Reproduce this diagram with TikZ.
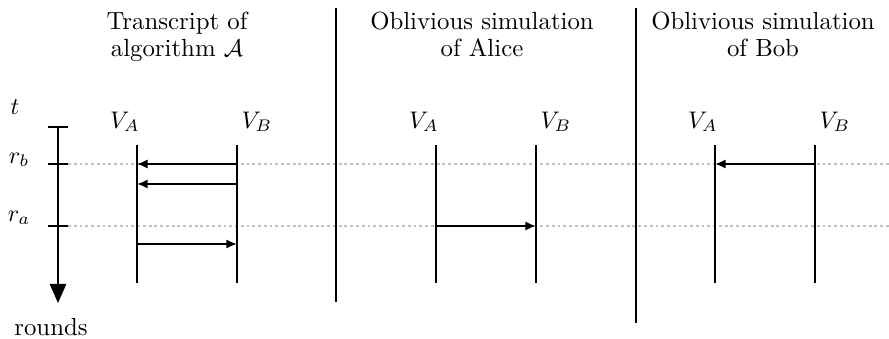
\documentclass[tikz,border=0pt]{standalone}
\usetikzlibrary{arrows.meta}
\begin{document}
\begin{tikzpicture}[x=0.41667pt,y=-0.41667pt,
  font=\fontsize{10.33pt}{11.25pt}\selectfont,
  life/.style={line width=0.8pt},
  msg/.style={line width=0.8pt,-{Latex[length=4.4pt,width=3.8pt]}},
  sep/.style={line width=0.8pt},
  grid/.style={gray!50,dash pattern=on 1.2pt off 1.2pt,line width=0.6pt},
  lbl/.style={inner sep=0pt},
  title/.style={align=center,inner sep=0pt,anchor=north}]
\useasboundingbox (0,0) rectangle (889,339);
% level coordinates
\coordinate (rb) at (0,164);
\coordinate (rb2) at (0,184);
\coordinate (ra) at (0,226);
\coordinate (ra2) at (0,244);
% dashed round lines
\coordinate (rbL) at (68,164); \coordinate (rbR) at (889,164);
\coordinate (raL) at (68,226); \coordinate (raR) at (889,226);
\draw[grid] (rbL) -- (rbR);
\draw[grid] (raL) -- (raR);
% time axis
\coordinate (ttop) at (58,127);
\coordinate (tbot) at (58,303);
\draw[line width=1pt,-{Triangle[length=8pt,width=6.8pt]}] (ttop) -- (tbot);
\coordinate (tickL) at (48,127); \coordinate (tickR) at (68,127);
\draw[line width=1pt] (tickL) -- (tickR);
\coordinate (tbL) at (48,164); \coordinate (tbR) at (68,164);
\draw[line width=1pt] (tbL) -- (tbR);
\coordinate (taL) at (48,226); \coordinate (taR) at (68,226);
\draw[line width=1pt] (taL) -- (taR);
\node[lbl] (t) at (15,107) {$t$};
\node[lbl] (rblbl) at (19,160) {$r_b$};
\node[lbl] (ralbl) at (19,218) {$r_a$};
\node[lbl] (rounds) at (51,327) {rounds};
% separators
\coordinate (s1t) at (336,8); \coordinate (s1b) at (336,302);
\coordinate (s2t) at (636,8); \coordinate (s2b) at (636,323);
\draw[sep] (s1t) -- (s1b);
\draw[sep] (s2t) -- (s2b);
% panels
\foreach \n/\xa/\xb in {p1/137/237, p2/436/536, p3/715/815}{
  \coordinate (\n at) at (\xa,145);
  \coordinate (\n ab) at (\xa,283);
  \coordinate (\n bt) at (\xb,145);
  \coordinate (\n bb) at (\xb,283);
  \draw[life] (\n at) -- (\n ab);
  \draw[life] (\n bt) -- (\n bb);
  \node[lbl] (\n la) at (\xa-12,122) {$V_A$};
  \node[lbl] (\n lb) at (\xb+20,122) {$V_B$};
}
% messages
\draw[msg] (p1bt |- rb) -- (p1at |- rb);
\draw[msg] (p1bt |- rb2) -- (p1at |- rb2);
\draw[msg] (p1at |- ra2) -- (p1bt |- ra2);
\draw[msg] (p2at |- ra) -- (p2bt |- ra);
\draw[msg] (p3bt |- rb) -- (p3at |- rb);
% titles
\node[title] (h1) at (177,12) {Transcript of\\algorithm $\mathcal{A}$};
\node[title] (h2) at (482,12) {Oblivious simulation\\of Alice};
\node[title] (h3) at (763,12) {Oblivious simulation\\of Bob};
\end{tikzpicture}
\end{document}
